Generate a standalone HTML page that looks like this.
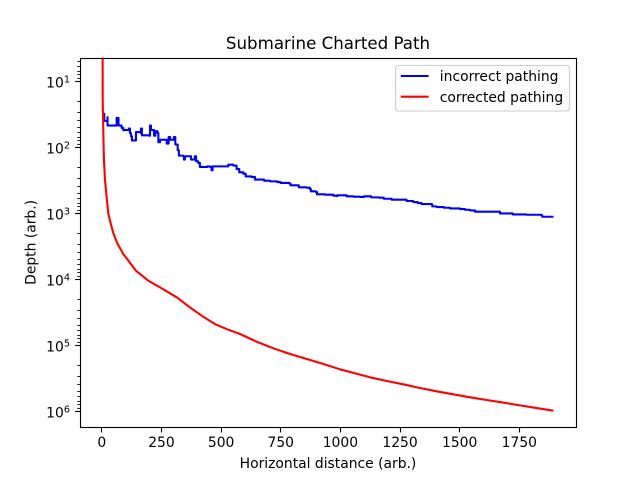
<!DOCTYPE html>
<html lang="en">
<head>
<meta charset="utf-8">
<title>Submarine Charted Path</title>
<style>
html,body{margin:0;padding:0;background:#fff;width:640px;height:480px;overflow:hidden}
svg{display:block}
text{font-family:"DejaVu Sans","Liberation Sans",sans-serif;fill:#000}
</style>
</head>
<body>
<svg id="chart" xmlns="http://www.w3.org/2000/svg" width="640" height="480" viewBox="0 0 640 480">
  <defs><clipPath id="plot-clip"><rect x="80" y="57.6" width="496" height="369.6"/></clipPath></defs>
  <rect x="0" y="0" width="640" height="480" fill="#fff"/>
  <g id="series" clip-path="url(#plot-clip)"></g>
  <g id="ticks"></g>
  <rect x="80.5" y="58.5" width="496" height="369" fill="none" stroke="#000" stroke-width="1.11"/>
  <text x="328" y="49" text-anchor="middle" font-size="16.67">Submarine Charted Path</text>
  <text x="328" y="468" text-anchor="middle" font-size="13.89">Horizontal distance (arb.)</text>
  <text transform="translate(35.5 242.4) rotate(-90)" text-anchor="middle" font-size="13.89">Depth (arb.)</text>
  <g>
    <rect x="395.5" y="65.5" width="174" height="45.5" rx="2.8" fill="#fff" fill-opacity="0.8" stroke="#ccc" stroke-width="1.11"/>
    <line x1="400.8" x2="428.6" y1="76" y2="76" stroke="#0000ff" stroke-width="2.08"/>
    <text x="439.8" y="81" font-size="13.89">incorrect pathing</text>
    <line x1="400.8" x2="428.6" y1="96.7" y2="96.7" stroke="#ff0000" stroke-width="2.08"/>
    <text x="439.8" y="102" font-size="13.89">corrected pathing</text>
  </g>
</svg>
<script>
const xTickValues = [0, 250, 500, 750, 1000, 1250, 1500, 1750];
const yTickExponents = [1, 2, 3, 4, 5, 6];

const incorrectX = [10,10,20,24,24,62,62,70,70,76,83,90,111,114,118,122,126,143,143,163,164,168,198,202,206,219,224,233,237,244,269,272,280,286,302,302,308,314,318,323,341,344,348,372,374,390,395,404,411,436,442,453,460,464,527,530,551,565,576,593,603,628,642,677,680,705,735,749,786,791,823,826,858,872,876,897,902,935,970,984,987,1023,1026,1054,1082,1099,1127,1129,1163,1180,1182,1210,1215,1270,1277,1305,1324,1340,1382,1385,1403,1434,1459,1501,1522,1543,1564,1648,1669,1718,1722,1778,1843,1846,1893];
const incorrectDepth = [30,40,40,35,47,47,36,38,47,47,51,55,55,52,61,68,79,79,59,61,52,66,67,47,55,67,57,61,84,77,77,88,70,77,77,70,91,91,111,134,137,154,137,137,154,137,163,173,199,199,195,199,224,195,195,184,190,214,240,252,277,283,309,309,321,329,337,348,356,378,378,405,410,430,466,477,517,524,542,549,535,535,555,561,567,555,555,575,582,582,603,603,624,624,653,677,701,727,735,787,806,826,845,865,885,906,948,948,1006,1006,1042,1054,1079,1130,1130];

const correctedX = [3,3.6,7.8,9,13.2,20,27,37,48,65,90,118,143,195,244,314,369,425,474,523,579,649,719,789,859,929,998,1068,1124,1194,1263,1333,1403,1473,1543,1613,1685,1753,1823,1893];
const correctedDepth = [1,19,110,156,314,562,1005,1422,1995,2858,4150,5623,7430,10540,13280,18790,26670,36980,47750,56890,67600,88500,111400,135900,161800,192800,231700,270400,306200,348300,391000,444800,498900,554600,615200,676100,743000,814700,895300,982000];

const plotLeft = 80, plotRight = 576, plotTop = 57.6, plotBottom = 427.2;
const xMin = -91.5, xMax = 1987.5;
const logTop = 0.642, logBottom = 6.242;
const NS = 'http://www.w3.org/2000/svg';

function xScale(v) { return plotLeft + (v - xMin) / (xMax - xMin) * (plotRight - plotLeft); }
function yScale(d) { return plotTop + (Math.log10(d) - logTop) / (logBottom - logTop) * (plotBottom - plotTop); }
function snap(p) { return Math.floor(p) + 0.5; }
function make(tag) { return document.createElementNS(NS, tag); }

const seriesGroup = document.getElementById('series');
const tickGroup = document.getElementById('ticks');

function stepPoints(xs, ys) {
  const out = [];
  for (let i = 0; i < xs.length; i++) {
    if (i > 0) out.push(xScale(xs[i]).toFixed(2) + ',' + yScale(ys[i - 1]).toFixed(2));
    out.push(xScale(xs[i]).toFixed(2) + ',' + yScale(ys[i]).toFixed(2));
  }
  return out.join(' ');
}
function linePoints(xs, ys) {
  return xs.map(function (v, i) { return xScale(v).toFixed(2) + ',' + yScale(ys[i]).toFixed(2); }).join(' ');
}

const incorrectLine = make('polyline');


incorrectLine.setAttribute('points', stepPoints(incorrectX, incorrectDepth));
incorrectLine.setAttribute('fill', 'none');
incorrectLine.setAttribute('stroke', '#0000ff');
incorrectLine.setAttribute('stroke-width', '2.08');
incorrectLine.setAttribute('stroke-linejoin', 'round');
seriesGroup.appendChild(incorrectLine);

const correctedLine = make('polyline');


correctedLine.setAttribute('points', linePoints(correctedX, correctedDepth));
correctedLine.setAttribute('fill', 'none');
correctedLine.setAttribute('stroke', '#ff0000');
correctedLine.setAttribute('stroke-width', '2.08');
correctedLine.setAttribute('stroke-linejoin', 'round');
seriesGroup.appendChild(correctedLine);

xTickValues.forEach(function (v) {
  const raw = xScale(v);
  const px = snap(raw);
  const mark = make('line');
  
  
  mark.setAttribute('x1', px);
  mark.setAttribute('x2', px);
  mark.setAttribute('y1', 427.5);
  mark.setAttribute('y2', 432.4);
  mark.setAttribute('stroke', '#000');
  mark.setAttribute('stroke-width', '1.11');
  tickGroup.appendChild(mark);
  const label = make('text');
  
  
  label.setAttribute('x', raw);
  label.setAttribute('y', plotBottom + 20);
  label.setAttribute('text-anchor', 'middle');
  label.setAttribute('font-size', '13.89');
  label.textContent = String(v);
  tickGroup.appendChild(label);
});

yTickExponents.forEach(function (e) {
  const raw = yScale(Math.pow(10, e));
  const py = snap(raw);
  const mark = make('line');
  
  
  mark.setAttribute('x1', plotLeft - 4.86);
  mark.setAttribute('x2', plotLeft);
  mark.setAttribute('y1', py);
  mark.setAttribute('y2', py);
  mark.setAttribute('stroke', '#000');
  mark.setAttribute('stroke-width', '1.11');
  tickGroup.appendChild(mark);
  const label = make('text');
  
  
  label.setAttribute('x', plotLeft - 10);
  label.setAttribute('y', raw + 6.5);
  label.setAttribute('text-anchor', 'end');
  label.setAttribute('font-size', '13.89');
  const base = make('tspan');
  base.textContent = '10';
  label.appendChild(base);
  const sup = make('tspan');
  sup.setAttribute('dy', '-5.4');
  sup.setAttribute('font-size', '9.7');
  sup.textContent = String(e);
  label.appendChild(sup);
  tickGroup.appendChild(label);
});

for (let e = 0; e <= 6; e++) {
  for (let m = 2; m <= 9; m++) {
    const log = e + Math.log10(m);
    if (log < logTop || log > logBottom) continue;
    const py = snap(yScale(Math.pow(10, log)));
    const minor = make('line');
    
    
    minor.setAttribute('x1', plotLeft - 2.78);
    minor.setAttribute('x2', plotLeft);
    minor.setAttribute('y1', py);
    minor.setAttribute('y2', py);
    minor.setAttribute('stroke', '#000');
    minor.setAttribute('stroke-width', '0.83');
    tickGroup.appendChild(minor);
  }
}
</script>
</body>
</html>
